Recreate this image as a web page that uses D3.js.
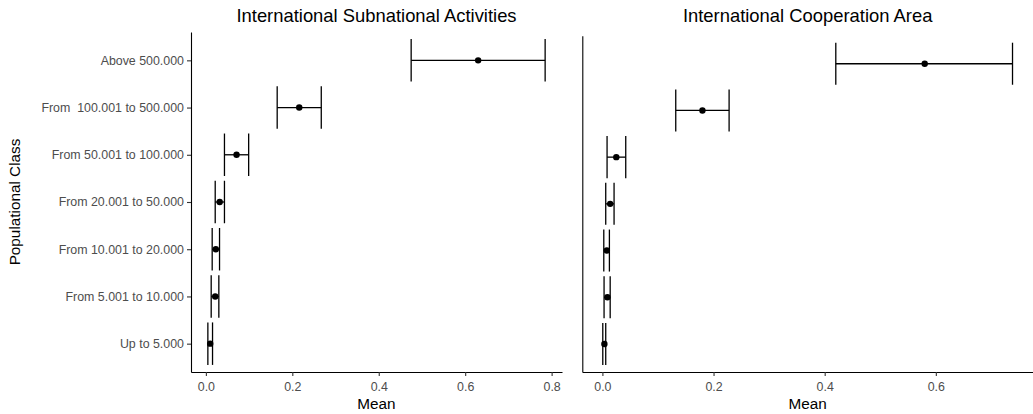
<!DOCTYPE html>
<html>
<head>
<meta charset="utf-8">
<script src="https://cdn.jsdelivr.net/npm/d3@7"></script>
<style>
  body { margin: 0; background: #fff; }
  svg { font-family: "Liberation Sans", Arial, sans-serif; }
</style>
</head>
<body>
<svg width="1033" height="414"></svg>
<script>
// population classes, bottom to top
const categories = [
  'Up to 5.000',
  'From 5.001 to 10.000',
  'From 10.001 to 20.000',
  'From 20.001 to 50.000',
  'From 50.001 to 100.000',
  'From  100.001 to 500.000',
  'Above 500.000'
];

// International Subnational Activities
const subMean = [0.010, 0.0216, 0.023, 0.032, 0.071, 0.216, 0.630];
const subLow  = [0.0046, 0.0123, 0.0146, 0.0216, 0.043, 0.165, 0.475];
const subHigh = [0.0154, 0.030, 0.0316, 0.043, 0.099, 0.267, 0.785];

// International Cooperation Area
const coopMean = [0.0036, 0.009, 0.008, 0.014, 0.025, 0.180, 0.580];
const coopLow  = [0.0007, 0.003, 0.0025, 0.006, 0.0084, 0.132, 0.420];
const coopHigh = [0.006, 0.014, 0.0126, 0.021, 0.042, 0.228, 0.738];

const xTicks = [0, 0.2, 0.4, 0.6, 0.8];

const svg = d3.select('svg');

const panels = [
  {title: 'International Subnational Activities', mean: subMean, lo: subLow, hi: subHigh,
   x0: 191, x1: 562, top: 32, labels: true},
  {title: 'International Cooperation Area', mean: coopMean, lo: coopLow, hi: coopHigh,
   x0: 582.3, x1: 1033, top: 35.7, labels: false}
];
const bottom = 372;

panels.forEach(p => {
  const rows = categories.map((c, i) => ({cat: c, mean: p.mean[i], lo: p.lo[i], hi: p.hi[i]}));

  const lo = d3.min(rows, d => d.lo), hi = d3.max(rows, d => d.hi);
  const pad = (hi - lo) * 0.05;
  const x = d3.scaleLinear().domain([lo - pad, hi + pad]).range([p.x0, p.x1]);
  const y = d3.scalePoint().domain(categories).range([bottom, p.top]).padding(0.6);
  const half = y.step() * 0.45;

  const g = svg.append('g');

  // axes
  const xAxis = g.append('g')
    .attr('transform', `translate(0,${bottom})`)
    .call(d3.axisBottom(x).tickValues(xTicks.filter(t => t <= x.domain()[1]))
      .tickFormat(d3.format('.1f')).tickSize(4).tickPadding(3).tickSizeOuter(0));
  const yAxis = g.append('g')
    .attr('transform', `translate(${p.x0},0)`)
    .call(d3.axisLeft(y).tickSize(p.labels ? 4 : 0).tickPadding(3).tickSizeOuter(0)
      .tickFormat(p.labels ? (d => d) : () => ''));

  [xAxis, yAxis].forEach(a => {
    a.select('.domain').attr('stroke', '#000').attr('stroke-width', 1.1);
    a.selectAll('.tick line').attr('stroke', '#333').attr('stroke-width', 1.1);
    a.selectAll('.tick text').attr('fill', '#4d4d4d')
      .style('font-size', '12.4px').style('white-space', 'pre');
  });
  xAxis.selectAll('.tick text').attr('dy', '0.95em');

  // error bars
  const bars = g.append('g').selectAll('g').data(rows).enter().append('g')
    .attr('stroke', '#000').attr('stroke-width', 1.3).attr('fill', 'none');
  bars.append('line')
    .attr('x1', d => x(d.lo)).attr('x2', d => x(d.hi))
    .attr('y1', d => y(d.cat)).attr('y2', d => y(d.cat));
  bars.append('line')
    .attr('x1', d => x(d.lo)).attr('x2', d => x(d.lo))
    .attr('y1', d => y(d.cat) - half).attr('y2', d => y(d.cat) + half);
  bars.append('line')
    .attr('x1', d => x(d.hi)).attr('x2', d => x(d.hi))
    .attr('y1', d => y(d.cat) - half).attr('y2', d => y(d.cat) + half);

  // means
  g.append('g').selectAll('circle').data(rows).enter().append('circle')
    .attr('cx', d => x(d.mean)).attr('cy', d => y(d.cat))
    .attr('r', 3.2).attr('fill', '#000');

  // titles
  g.append('text')
    .attr('x', (p.x0 + p.x1) / 2).attr('y', 22)
    .attr('text-anchor', 'middle').style('font-size', '18.4px')
    .text(p.title);
  g.append('text')
    .attr('x', (p.x0 + p.x1) / 2).attr('y', 409)
    .attr('text-anchor', 'middle').style('font-size', '15.3px')
    .text('Mean');
});

svg.append('text')
  .attr('transform', 'translate(20,202) rotate(-90)')
  .attr('text-anchor', 'middle').style('font-size', '15.3px')
  .text('Populational Class');
</script>
</body>
</html>
